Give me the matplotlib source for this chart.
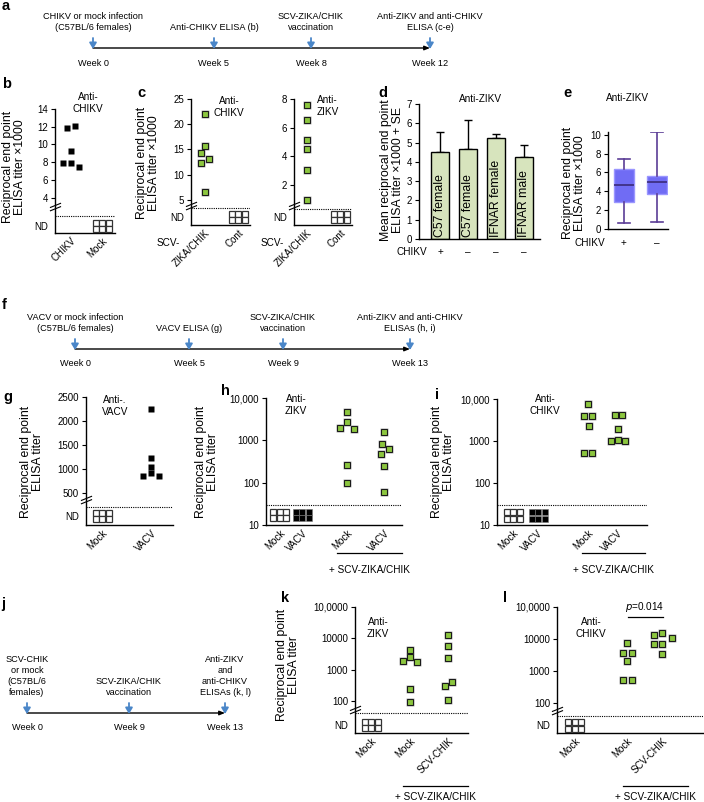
import matplotlib
matplotlib.use('Agg')
import matplotlib.pyplot as plt
from matplotlib.path import Path
from matplotlib.transforms import ScaledTranslation, blended_transform_factory

plt.rcParams['font.family'] = ['Liberation Sans', 'DejaVu Sans']
plt.rcParams['font.size'] = 7

# ---------------- datos ----------------
# a: linea de tiempo
a_weeks = ['Week 0', 'Week 5', 'Week 8', 'Week 12']
a_events = ['CHIKV or mock infection\n(C57BL/6 females)', 'Anti-CHIKV ELISA (b)',
            'SCV-ZIKA/CHIK\nvaccination', 'Anti-ZIKV and anti-CHIKV\nELISA (c-e)']
# b
b_cats = ['CHIKV', 'Mock']
b_chikv = [11.8, 12.1, 9.3, 7.9, 7.9, 7.5]
b_jit = [-4, 4, 0, -8, 0, 8]
# c
c_cats = ['ZIKA/CHIK', 'Cont']
c_chikv = [22.1, 15.7, 14.2, 13.1, 12.4, 6.6]
c_chikv_jit = [0, 0, -4, 4, -4, 0]
c_zikv = [7.6, 6.55, 5.13, 4.5, 3.05, 0.95]
c_zikv_jit = [0, 0, 0, 0, 0, 0]
# d
d_groups = ['C57 female', 'C57 female', 'IFNAR female', 'IFNAR male']
d_chikv = ['+', '\u2013', '\u2013', '\u2013']
d_mean = [4.53, 4.69, 5.26, 4.26]
d_se = [1.0, 1.48, 0.17, 0.64]
# e
e_labels = ['+', '\u2013']
e_whislo = [0.67, 0.78]
e_q1 = [2.83, 3.71]
e_med = [4.63, 4.98]
e_q3 = [6.4, 5.65]
e_whishi = [7.46, 10.35]
# f
f_weeks = ['Week 0', 'Week 5', 'Week 9', 'Week 13']
f_events = ['VACV or mock infection\n(C57BL/6 females)', 'VACV ELISA (g)',
            'SCV-ZIKA/CHIK\nvaccination', 'Anti-ZIKV and anti-CHIKV\nELISAs (h, i)']
# g
g_cats = ['Mock', 'VACV']
g_vacv = [2249, 1229, 1041, 916, 861, 861]
g_jit = [0, 0, 0, 0, -8, 8]
# h, i
hi_cats = ['Mock', 'VACV', 'Mock', 'VACV']
h_mock_scv = [4570, 2650, 1950, 1860, 263, 97]
h_mock_jit = [0, 0, -7, 7, 0, 0]
h_vacv_scv = [1560, 830, 630, 480, 250, 59]
h_vacv_jit = [0, -2, 5, -3, 0, 0]
i_mock_scv = [7750, 3850, 3900, 2230, 510, 510]
i_mock_jit = [0, -4, 4, 1, -4, 4]
i_vacv_scv = [4050, 4200, 1910, 980, 1070, 980]
i_vacv_jit = [-3, 4, 0, -7, 0, 7]
# j
j_weeks = ['Week 0', 'Week 9', 'Week 13']
j_events = ['SCV-CHIK\nor mock\n(C57BL/6\nfemales)', 'SCV-ZIKA/CHIK\nvaccination',
            'Anti-ZIKV\nand\nanti-CHIKV\nELISAs (k, l)']
# k, l
kl_cats = ['Mock', 'Mock', 'SCV-CHIK']
k_mock_scv = [4350, 2530, 1860, 1710, 248, 93]
k_mock_jit = [0, 0, -7, 7, 0, 0]
k_chik_scv = [12600, 5540, 2410, 300, 404, 105]
k_chik_jit = [0, 0, 0, -3, 4, 0]
l_mock_scv = [7400, 3730, 3730, 2100, 518, 518]
l_mock_jit = [0, -4, 5, 0, -4, 5]
l_chik_scv = [12900, 15200, 10600, 7050, 7050, 3400]
l_chik_jit = [-8, 0, 10, -8, 0, 0]

GREEN = '#8cc63f'
BLUE = '#4a86c8'
W, H = 704, 802
fig = plt.figure(figsize=(W / 100, H / 100), dpi=100)

ov = fig.add_axes([0, 0, 1, 1])
ov.set_xlim(0, W)
ov.set_ylim(H, 0)
ov.axis('off')


def px_axes(l, t, r, b):
    return fig.add_axes([l / W, 1 - b / H, (r - l) / W, (b - t) / H])


def shift(dx, dy=0):
    return ScaledTranslation(dx / 100, -dy / 100, fig.dpi_scale_trans)


def style(ax):
    ax.spines['top'].set_visible(False)
    ax.spines['right'].set_visible(False)
    ax.spines['left'].set_linewidth(1)
    ax.spines['bottom'].set_linewidth(1)
    ax.tick_params(axis='y', direction='out', length=3, width=0.8, labelsize=7, pad=2)
    ax.tick_params(axis='x', length=0, labelsize=7, pad=2)
    ax.tick_params(axis='y', which='minor', length=0)
    ax.patch.set_alpha(0)


def rot_labels(ax, pos, labels):
    ax.set_xticks(pos)
    ax.set_xticklabels(labels, rotation=45, ha='right', rotation_mode='anchor')


def green_points(ax, x, vals, jit):
    for v, j in zip(vals, jit):
        tr = ax.transData + shift(j)
        ax.plot(x, v, 's', ms=6.0, color='#b8b8b8', mec='none', transform=tr, zorder=3, clip_on=False)
        ax.plot(x, v, 's', ms=3.9, mfc=GREEN, mec='#1a1a1a', mew=0.8, transform=tr, zorder=4, clip_on=False)


def black_points(ax, x, vals, jit):
    for v, j in zip(vals, jit):
        ax.plot(x, v, 's', ms=4.4, color='black', mec='none',
                transform=ax.transData + shift(j), zorder=4, clip_on=False)


def nd_grid(ax, x, y, filled=False):
    for dx in (-6.5, 0, 6.5):
        for dy in (-3.2, 3.2):
            tr = ax.transData + shift(dx, dy)
            if filled:
                ax.plot(x, y, 's', ms=4.6, mfc='black', mec='#777777', mew=0.4, transform=tr, zorder=4)
            else:
                ax.plot(x, y, 's', ms=3.8, mfc='white', mec='#333333', mew=0.9, transform=tr, zorder=4)


brk = Path([(-1, -0.2), (1, 0.6), (-1, -0.8), (1, 0.0)],
           [Path.MOVETO, Path.LINETO, Path.MOVETO, Path.LINETO])


def break_mark(ax, y):
    ax.plot(0, y, marker=brk, ms=8, mec='k', mfc='none', mew=0.8,
            transform=ax.get_yaxis_transform(), clip_on=False, zorder=6)


def dotted(ax, y):
    ax.axhline(y, color='k', ls=(0, (1, 1)), lw=0.8, zorder=2)


def timeline(xs, y_line, weeks, events, y_text, fs=6.6):
    ov.annotate('', xy=(xs[-1], y_line), xytext=(xs[0], y_line),
                arrowprops=dict(arrowstyle='-|>,head_width=0.18,head_length=0.45',
                                color='black', lw=1.0, shrinkA=0, shrinkB=0), zorder=3)
    for x, wk, ev in zip(xs, weeks, events):
        ov.annotate('', xy=(x, y_line + 1), xytext=(x, y_line - 10),
                    arrowprops=dict(arrowstyle='-|>,head_width=0.3,head_length=0.5',
                                    color=BLUE, lw=1.3, shrinkA=0, shrinkB=0), zorder=4)
        ov.text(x, y_line + 15, wk, ha='center', va='center', fontsize=fs)
        ov.text(x, y_text, ev, ha='center', va='bottom', fontsize=fs, linespacing=1.3)


def letter(x, y, s):
    ov.text(x, y, s, fontsize=10.5, fontweight='bold', ha='left', va='center')


def ylab(x, y, s):
    ov.text(x, y, s, rotation=90, ha='center', va='center', fontsize=8.8, linespacing=1.1)


def note(x, y, s, ha='center'):
    ov.text(x, y, s, ha=ha, va='center', fontsize=7.2, linespacing=1.25)


def underline(x1, x2, y, ytext):
    ov.plot([x1, x2], [y, y], color='k', lw=0.9)
    ov.text((x1 + x2) / 2, ytext, '+ SCV-ZIKA/CHIK', ha='center', va='center', fontsize=7.2)


# ---------------- a ----------------
letter(2, 6, 'a')
timeline([93, 214, 311, 430], 48, a_weeks, a_events, 32)

# ---------------- b ----------------
letter(2, 84, 'b')
ax = px_axes(55, 109, 115, 233)
style(ax)
ax.set_ylim(0, 14)
ax.set_xlim(-0.52, 1.42)
black_points(ax, 0, b_chikv, b_jit)
nd_grid(ax, 1, 0.8)
dotted(ax, 1.9)
break_mark(ax, 3.0)
ax.set_yticks([0.8, 4, 6, 8, 10, 12, 14])
ax.set_yticklabels(['ND', '4', '6', '8', '10', '12', '14'])
ax.yaxis.get_major_ticks()[0].tick1line.set_visible(False)
rot_labels(ax, [0, 1], b_cats)
ylab(14, 167, 'Reciprocal end point\nELISA titer \u00d71000')
note(88, 103, 'Anti-\nCHIKV')

# ---------------- c ----------------
letter(137, 93, 'c')
ax = px_axes(191, 99, 250, 225)
style(ax)
ax.set_ylim(0, 25)
ax.set_xlim(-0.42, 1.36)
green_points(ax, 0, c_chikv, c_chikv_jit)
nd_grid(ax, 1, 1.6)
dotted(ax, 3.4)
break_mark(ax, 4.0)
ax.set_yticks([1.6, 5, 10, 15, 20, 25])
ax.set_yticklabels(['ND', '5', '10', '15', '20', '25'])
ax.yaxis.get_major_ticks()[0].tick1line.set_visible(False)
rot_labels(ax, [0, 1], c_cats)
ylab(148, 163, 'Reciprocal end point\nELISA titer \u00d71000')
note(229, 107, 'Anti-\nCHIKV')
note(168, 243, 'SCV-')

ax = px_axes(294, 99, 352, 225)
style(ax)
ax.set_ylim(-0.8, 8)
ax.set_xlim(-0.39, 1.36)
green_points(ax, 0, c_zikv, c_zikv_jit)
nd_grid(ax, 1, -0.24)
dotted(ax, 0.32)
break_mark(ax, 0.6)
ax.set_yticks([-0.24, 2, 4, 6, 8])
ax.set_yticklabels(['ND', '2', '4', '6', '8'])
ax.yaxis.get_major_ticks()[0].tick1line.set_visible(False)
rot_labels(ax, [0, 1], c_cats)
note(317, 106, 'Anti-\nZIKV', ha='left')
note(272, 243, 'SCV-')

# ---------------- d ----------------
letter(378, 93, 'd')
ax = px_axes(419, 104, 540, 239)
style(ax)
xd = list(range(len(d_mean)))
ax.bar(xd, d_mean, width=0.64, color='#d7e4bd', edgecolor='black', lw=1, zorder=2)
ax.errorbar(xd, d_mean, yerr=[[0] * len(d_se), d_se], fmt='none', ecolor='black',
            elinewidth=1, capsize=3, capthick=1, zorder=1)
for x, g in zip(xd, d_groups):
    ax.text(x, 0.12, g, rotation=90, ha='center', va='bottom', fontsize=8.8, zorder=3)
ax.set_ylim(0, 7)
ax.set_xlim(-0.75, 3.57)
ax.set_yticks(range(0, 8))
ax.set_xticks([])
tr = blended_transform_factory(ax.transData, ax.transAxes)
for x, s in zip(xd, d_chikv):
    ax.text(x, -0.095, s, transform=tr, ha='center', va='center', fontsize=7.2)
ax.text(-1.02, -0.095, 'CHIKV', transform=tr, ha='center', va='center', fontsize=7.2)
ylab(392, 170, 'Mean reciprocal end point\nELISA titer \u00d71000 + SE')
note(480, 99, 'Anti-ZIKV')

# ---------------- e ----------------
letter(563, 93, 'e')
ax = px_axes(608, 132, 668, 229)
style(ax)
stats = []
for k in range(2):
    stats.append(dict(whislo=e_whislo[k], q1=e_q1[k], med=e_med[k], q3=e_q3[k],
                      whishi=e_whishi[k], fliers=[]))
ax.bxp(stats, positions=[0, 1], widths=0.6, patch_artist=True, showfliers=False,
       capwidths=0.34,
       boxprops=dict(facecolor='#706cf4', edgecolor='#9a96ff', lw=1),
       whiskerprops=dict(color='#5b3d96', lw=1.2),
       capprops=dict(color='#5b3d96', lw=1.2),
       medianprops=dict(color='#3b2a7a', lw=1.2))
ax.set_ylim(0, 10.3)
ax.set_xlim(-0.48, 1.33)
ax.set_yticks(range(0, 11, 2))
ax.set_xticks([])
tr = blended_transform_factory(ax.transData, ax.transAxes)
for x, s in zip([0, 1], e_labels):
    ax.text(x, -0.145, s, transform=tr, ha='center', va='center', fontsize=7.2)
ax.text(-1.03, -0.145, 'CHIKV', transform=tr, ha='center', va='center', fontsize=7.2)
ylab(574, 183, 'Reciprocal end point\nELISA titer \u00d71000')
note(627, 98, 'Anti-ZIKV')

# ---------------- f ----------------
letter(2, 305, 'f')
timeline([75, 189, 283, 410], 349, f_weeks, f_events, 333)

# ---------------- g ----------------
letter(3, 397, 'g')
ax = px_axes(86, 397, 173, 525)
style(ax)
ax.set_ylim(-170, 2500)
ax.set_xlim(-0.33, 1.45)
black_points(ax, 1, g_vacv, g_jit)
nd_grid(ax, 0, 21)
dotted(ax, 208)
break_mark(ax, 375)
ax.set_yticks([21, 500, 1000, 1500, 2000, 2500])
ax.set_yticklabels(['ND', '500', '1000', '1500', '2000', '2500'])
ax.yaxis.get_major_ticks()[0].tick1line.set_visible(False)
rot_labels(ax, [0, 1], g_cats)
ylab(32, 462, 'Reciprocal end point\nELISA titer')
note(115, 406, 'Anti-.\nVACV')

# ---------------- h ----------------
letter(221, 391, 'h')
hi_pos = [0, 1, 3, 4.65]
ax = px_axes(266, 398, 402, 525)
style(ax)
ax.set_yscale('log')
ax.set_ylim(10, 10000)
ax.set_xlim(-0.61, 5.44)
nd_grid(ax, hi_pos[0], 17)
nd_grid(ax, hi_pos[1], 17, filled=True)
green_points(ax, hi_pos[2], h_mock_scv, h_mock_jit)
green_points(ax, hi_pos[3], h_vacv_scv, h_vacv_jit)
dotted(ax, 30)
ax.set_yticks([10, 100, 1000, 10000])
ax.set_yticklabels(['10', '100', '1000', '10,000'])
ax.minorticks_off()
rot_labels(ax, hi_pos, hi_cats)
ylab(207, 462, 'Reciprocal end point\nELISA titer')
note(296, 405, 'Anti-\nZIKV')
underline(337, 402, 553, 570)

# ---------------- i ----------------
letter(435, 395, 'i')
i_pos = [0, 1, 3, 4.2]
ax = px_axes(497, 399, 647, 525)
style(ax)
ax.set_yscale('log')
ax.set_ylim(10, 10000)
ax.set_xlim(-0.64, 5.36)
nd_grid(ax, i_pos[0], 17)
nd_grid(ax, i_pos[1], 17, filled=True)
green_points(ax, i_pos[2], i_mock_scv, i_mock_jit)
green_points(ax, i_pos[3], i_vacv_scv, i_vacv_jit)
dotted(ax, 30)
ax.set_yticks([10, 100, 1000, 10000])
ax.set_yticklabels(['10', '100', '1000', '10,000'])
ax.minorticks_off()
rot_labels(ax, i_pos, hi_cats)
ylab(443, 462, 'Reciprocal end point\nELISA titer')
note(545, 405, 'Anti-\nCHIKV')
underline(582, 645, 553, 570)

# ---------------- j ----------------
letter(1, 604, 'j')
timeline([27, 129, 225], 713, j_weeks, j_events, 697)

# ---------------- k ----------------
letter(281, 598, 'k')
k_pos = [0, 1, 2]
ax = px_axes(355, 607, 468, 733)
style(ax)
ax.set_yscale('log')
ax.set_ylim(9.5, 100000)
ax.set_xlim(-0.42, 2.52)
nd_grid(ax, k_pos[0], 17)
green_points(ax, k_pos[1], k_mock_scv, k_mock_jit)
green_points(ax, k_pos[2], k_chik_scv, k_chik_jit)
dotted(ax, 41)
break_mark(ax, 55)
ax.set_yticks([17, 100, 1000, 10000, 100000])
ax.set_yticklabels(['ND', '100', '1000', '10000', '10,0000'])
ax.yaxis.get_major_ticks()[0].tick1line.set_visible(False)
ax.minorticks_off()
rot_labels(ax, k_pos, kl_cats)
ylab(288, 665, 'Reciprocal end point\nELISA titer')
note(378, 628, 'Anti-\nZIKV')
underline(403, 468, 786, 797)

# ---------------- l ----------------
letter(503, 598, 'l')
l_pos = [0, 1.5, 2.5]
ax = px_axes(557, 607, 703, 733)
style(ax)
ax.set_yscale('log')
ax.set_ylim(11.5, 100000)
ax.set_xlim(-0.51, 3.66)
nd_grid(ax, l_pos[0], 20)
green_points(ax, l_pos[1], l_mock_scv, l_mock_jit)
green_points(ax, l_pos[2], l_chik_scv, l_chik_jit)
dotted(ax, 39)
break_mark(ax, 60)
ax.set_yticks([20, 100, 1000, 10000, 100000])
ax.set_yticklabels(['ND', '100', '1000', '10000', '10,0000'])
ax.yaxis.get_major_ticks()[0].tick1line.set_visible(False)
ax.minorticks_off()
rot_labels(ax, l_pos, kl_cats)
note(591, 628, 'Anti-\nCHIKV')
ov.plot([628, 663], [617, 617], color='k', lw=0.9)
ov.text(645, 607, r'$\it{p}$=0.014', ha='center', va='center', fontsize=7.2)
underline(623, 688, 786, 797)

fig.savefig('out.png', dpi=100)
